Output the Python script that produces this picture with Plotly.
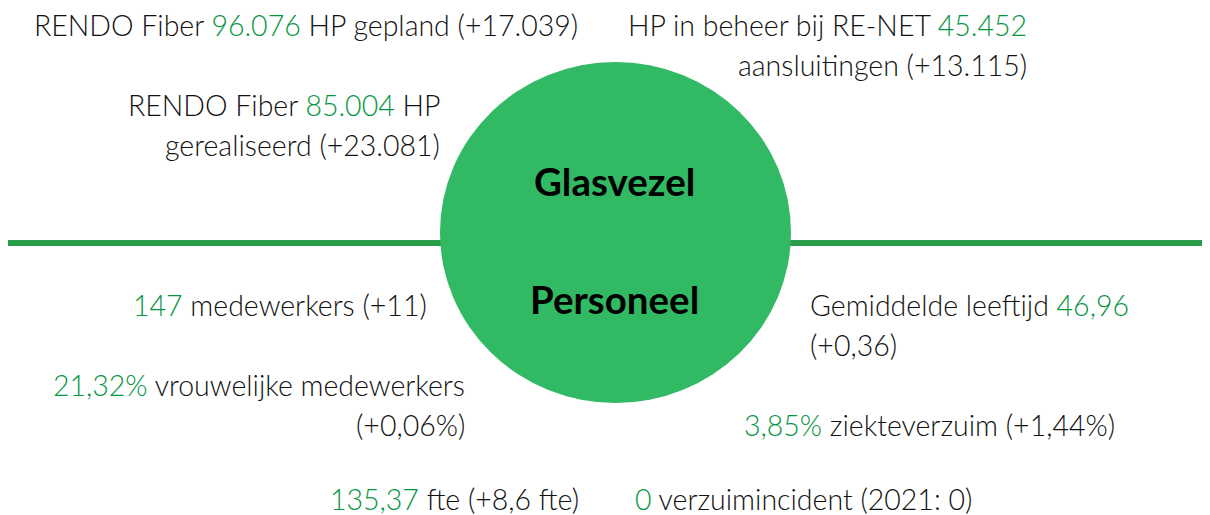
import plotly.graph_objects as go

# ---- data ----
GREEN_TXT = "#059640"
section_titles = ["Glasvezel", "Personeel"]

# each stat: (prefix text, green value, suffix text); <br> splits lines
glas_values = ["96.076", "85.004", "45.452"]
glas_prefix = ["RENDO Fiber ", "RENDO Fiber ", "HP in beheer bij RE-NET "]
glas_suffix = [" HP gepland (+17.039)", " HP<br>gerealiseerd (+23.081)", "<br>aansluitingen (+13.115)"]

pers_values = ["147", "21,32%", "135,37", "46,96", "3,85%", "0"]
pers_prefix = ["", "", "", "Gemiddelde leeftijd ", "", ""]
pers_suffix = [" medewerkers (+11)", " vrouwelijke medewerkers<br>(+0,06%)", " fte (+8,6 fte)",
               "<br>(+0,36)", " ziekteverzuim (+1,44%)", " verzuimincident (2021: 0)"]

# ---- layout positions (pixels, first line centre) ----
glas_pos = [(580, 25, "right"), (442, 105, "right"), (1029, 25, "right")]
pers_pos = [(429, 305, "right"), (467, 385, "right"), (581, 499, "right"),
            (808, 305, "left"), (1117, 425, "right"), (633, 499, "left")]

W, H = 1210, 515
OFF = 8  # default page margin of the browser
FONT = "Lato"
FS = 28.5
LINE_H = 40

fig = go.Figure()
fig.add_trace(go.Scatter(x=[OFF, W], y=[OFF, H], mode="markers", marker=dict(opacity=0),
                         hoverinfo="skip", showlegend=False))

# horizontal line and circle
fig.add_shape(type="line", x0=8, x1=W + 10, y0=243, y1=243, line=dict(color="#2A9D4A", width=6), layer="below")
fig.add_shape(type="circle", x0=440, x1=791, y0=62, y1=403, fillcolor="#31BA63", line=dict(width=0), layer="below")

def make_text(pre, val, suf):
    return f"{pre}<span style='color:{GREEN_TXT}'>{val}</span>{suf}"

def add_stat(pre, val, suf, x, y, al):
    lines = make_text(pre, val, suf).split("<br>")
    for i, ln in enumerate(lines):
        fig.add_annotation(x=x, y=y + i * LINE_H, text=ln, showarrow=False,
                           xanchor=al, yanchor="middle", align=al,
                           font=dict(family=FONT, size=FS, color="#111111", weight=300))

for (pre, val, suf), (x, y, al) in zip(zip(glas_prefix, glas_values, glas_suffix), glas_pos):
    add_stat(pre, val, suf, x, y, al)
for (pre, val, suf), (x, y, al) in zip(zip(pers_prefix, pers_values, pers_suffix), pers_pos):
    add_stat(pre, val, suf, x, y, al)

for t, y in zip(section_titles, [181, 299]):
    fig.add_annotation(x=614, y=y, text=f"<b>{t}</b>", showarrow=False, xanchor="center", yanchor="middle",
                       font=dict(family=FONT, size=38.5, color="#000000"))

fig.update_layout(
    width=W - OFF, height=H - OFF, margin=dict(l=0, r=0, t=0, b=0),
    paper_bgcolor="white", plot_bgcolor="white",
    xaxis=dict(range=[OFF, W], visible=False, fixedrange=True),
    yaxis=dict(range=[H, OFF], visible=False, fixedrange=True),
)
fig.write_html("out.html", config={"displayModeBar": False})
